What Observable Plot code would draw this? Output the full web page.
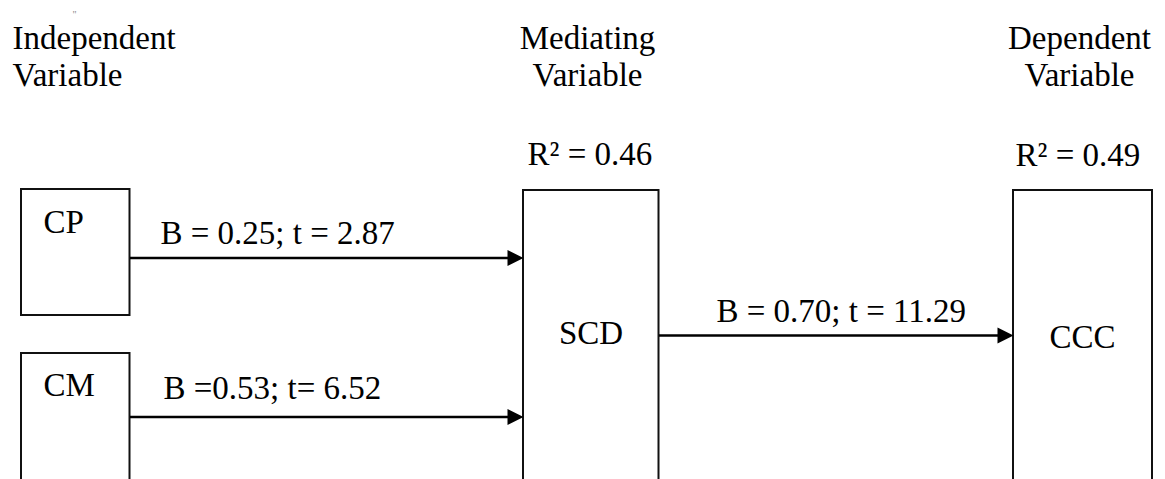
<!DOCTYPE html>
<html><head><meta charset="utf-8">
<script src="https://cdn.jsdelivr.net/npm/d3@7"></script>
<script src="https://cdn.jsdelivr.net/npm/@observablehq/plot@0.6"></script>
<style>html,body{margin:0;padding:0;background:#fff;} #chart svg{display:block;}</style>
</head><body><div id="chart"></div>
<script>
// ---- data ----
const nodeNames = ["CP", "CM", "SCD", "CCC"];
const headerLabels = ["Independent\nVariable", "Mediating\nVariable", "Dependent\nVariable"];
const pathFrom = ["CP", "CM", "SCD"];
const pathTo = ["SCD", "SCD", "CCC"];
const pathB = [0.25, 0.53, 0.70];
const pathT = [2.87, 6.52, 11.29];
const pathLabels = ["B = 0.25; t = 2.87", "B =0.53; t= 6.52", "B = 0.70; t = 11.29"];
const rSquaredNodes = ["SCD", "CCC"];
const rSquaredValues = [0.46, 0.49];

// ---- layout (diagram geometry, in pixel units of an identity scale) ----
const W = 1165, H = 479;
const boxLayout = {
  CP:  {x1: 21,  x2: 129.5, y1: 189, y2: 315, lx: 43,   ly: 232, anchor: "start"},
  CM:  {x1: 21,  x2: 129.5, y1: 353, y2: 483, lx: 43,   ly: 395, anchor: "start"},
  SCD: {x1: 523, x2: 658.5, y1: 190, y2: 483, lx: 590.5, ly: 343, anchor: "middle"},
  CCC: {x1: 1013, x2: 1152, y1: 190, y2: 483, lx: 1082, ly: 347, anchor: "middle"}
};
const pathLayout = [
  {y: 257.5, lx: 160, ly: 243},
  {y: 416.5, lx: 163, ly: 398},
  {y: 335,   lx: 716, ly: 321}
];
const headerLayout = [
  {x: 12, anchor: "start"},
  {x: 587, anchor: "middle"},
  {x: 1079, anchor: "middle"}
];
const rSquaredLayout = {SCD: {x: 527, y: 164}, CCC: {x: 1015, y: 165}};

const boxes = nodeNames.map(n => ({name: n, ...boxLayout[n]}));
const paths = pathFrom.map((f, i) => ({
  from: f, to: pathTo[i], B: pathB[i], t: pathT[i], label: pathLabels[i],
  x1: boxLayout[f].x2, x2: boxLayout[pathTo[i]].x1, ...pathLayout[i]
}));
const headers = headerLabels.map((h, i) => ({text: h, ...headerLayout[i]}));
const rsq = rSquaredNodes.map((n, i) => ({text: `R\u00B2 = ${rSquaredValues[i].toFixed(2)}`, ...rSquaredLayout[n]}));

const AL = 16, AW = 8;
const arrowHead = {
  draw(ctx) {
    ctx.moveTo(0, 0);
    ctx.lineTo(-AL, -AW);
    ctx.lineTo(-AL, AW);
    ctx.closePath();
  }
};

const font = "'Liberation Serif', 'Times New Roman', serif";
const fs = 33;

const chart = Plot.plot({
  width: W, height: H,
  margin: 0,
  style: {background: "white", overflow: "hidden", fontFamily: font},
  x: {domain: [0, W], range: [0, W], axis: null},
  y: {domain: [0, H], range: [0, H], axis: null},
  marks: [
    Plot.rect(boxes, {x1: "x1", x2: "x2", y1: "y1", y2: "y2", fill: "white", stroke: "#111", strokeWidth: 2}),
    Plot.link(paths, {x1: "x1", x2: d => d.x2 - 8, y1: "y", y2: "y", stroke: "#000", strokeWidth: 2.6}),
    Plot.dot(paths, {x: "x2", y: "y", symbol: arrowHead, fill: "#000", stroke: null, r: 5}),
    Plot.text(boxes.filter(b => b.anchor === "start"), {x: "lx", y: "ly", text: "name", textAnchor: "start", lineAnchor: "bottom", fontSize: fs, fontFamily: font, fill: "#000"}),
    Plot.text(boxes.filter(b => b.anchor === "middle"), {x: "lx", y: "ly", text: "name", textAnchor: "middle", lineAnchor: "bottom", fontSize: fs, fontFamily: font, fill: "#000"}),
    Plot.text(paths, {x: "lx", y: "ly", text: "label", textAnchor: "start", lineAnchor: "bottom", fontSize: fs, fontFamily: font, fill: "#000"}),
    Plot.text(rsq, {x: "x", y: "y", text: "text", textAnchor: "start", lineAnchor: "bottom", fontSize: fs, fontFamily: font, fill: "#000"}),
    Plot.text(headers.filter(h => h.anchor === "start"), {x: "x", y: () => 85, text: "text", textAnchor: "start", lineAnchor: "bottom", lineHeight: 37 / fs, fontSize: fs, fontFamily: font, fill: "#000"}),
    Plot.text(headers.filter(h => h.anchor === "middle"), {x: "x", y: () => 85, text: "text", textAnchor: "middle", lineAnchor: "bottom", lineHeight: 37 / fs, fontSize: fs, fontFamily: font, fill: "#000"}),
    Plot.text(["\""], {x: () => 74, y: () => 17, text: d => d, textAnchor: "middle", lineAnchor: "bottom", fontSize: 10, fontFamily: font, fill: "#888"})
  ]
});
document.getElementById("chart").appendChild(chart);
</script>
</body></html>
